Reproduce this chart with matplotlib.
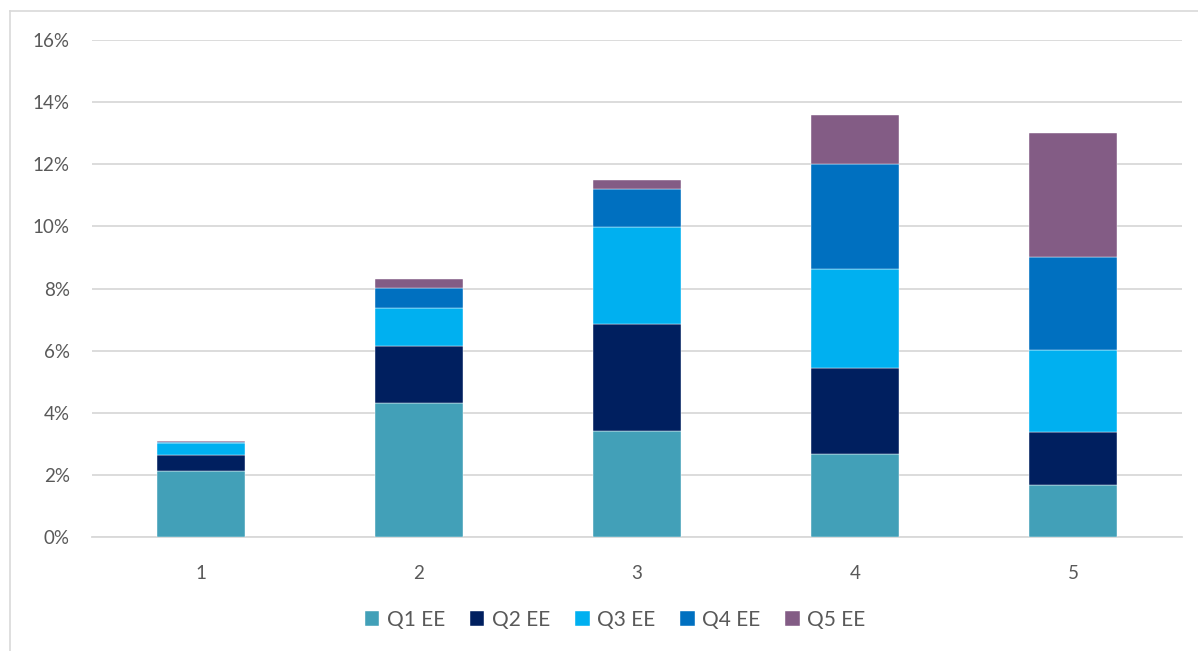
import matplotlib
matplotlib.use("Agg")
import matplotlib.pyplot as plt
from matplotlib.lines import Line2D
from matplotlib.ticker import FuncFormatter, MultipleLocator
import numpy as np

categories = ["1", "2", "3", "4", "5"]
series_names = ["Q1 EE", "Q2 EE", "Q3 EE", "Q4 EE", "Q5 EE"]
q1 = [2.12, 4.31, 3.41, 2.66, 1.68]
q2 = [0.52, 1.83, 3.46, 2.77, 1.70]
q3 = [0.40, 1.22, 3.11, 3.20, 2.63]
q4 = [0.02, 0.67, 1.23, 3.37, 2.99]
q5 = [0.03, 0.27, 0.28, 1.59, 4.00]
colors = ["#42A0B8", "#001F5F", "#00B0F0", "#0070C0", "#835C85"]

text_color = "#595959"
grid_color = "#D9D9D9"
plt.rcParams["font.family"] = ["Lato", "DejaVu Sans"]

fig = plt.figure(figsize=(11.98, 6.51), dpi=100)
ax = fig.add_axes([92 / 1198, 1 - 537 / 651, 1090 / 1198, 497 / 651])

x = np.arange(len(categories))
bottom = np.zeros(len(categories))
for name, vals, col in zip(series_names, [q1, q2, q3, q4, q5], colors):
    vals = np.array(vals)
    ax.bar(x, vals, width=0.4, bottom=bottom, color=col, label=name,
           edgecolor="white", linewidth=0.3, zorder=3)
    bottom += vals

ax.set_xlim(-0.5, len(categories) - 0.5)
ax.set_ylim(0, 16)
ax.yaxis.set_major_locator(MultipleLocator(2))
ax.yaxis.set_major_formatter(FuncFormatter(lambda v, p: f"{v:.0f}%"))
ax.set_xticks(x)
ax.set_xticklabels(categories)
ax.grid(axis="y", color=grid_color, linewidth=1.3, zorder=0)
ax.set_axisbelow(True)
for s in ["top", "right", "left"]:
    ax.spines[s].set_visible(False)
ax.spines["bottom"].set_color(grid_color)
ax.spines["bottom"].set_linewidth(1.3)
ax.tick_params(axis="both", length=0, labelsize=13.5, colors=text_color)
ax.tick_params(axis="y", pad=16)
ax.tick_params(axis="x", pad=20)

fig.legend(loc="center", bbox_to_anchor=(615 / 1198, 31 / 651), ncol=5,
           frameon=False, fontsize=15, labelcolor=text_color,
           handlelength=0.7, handleheight=0.7, handletextpad=0.35,
           columnspacing=1.2)

# chart-area frame: top and left edges only
fig.add_artist(Line2D([10 / 1198, 1.0], [1 - 11 / 651, 1 - 11 / 651],
                      transform=fig.transFigure, color=grid_color, linewidth=1.2))
fig.add_artist(Line2D([10 / 1198, 10 / 1198], [0.0, 1 - 11 / 651],
                      transform=fig.transFigure, color=grid_color, linewidth=1.2))

fig.savefig("out.png", dpi=100)
